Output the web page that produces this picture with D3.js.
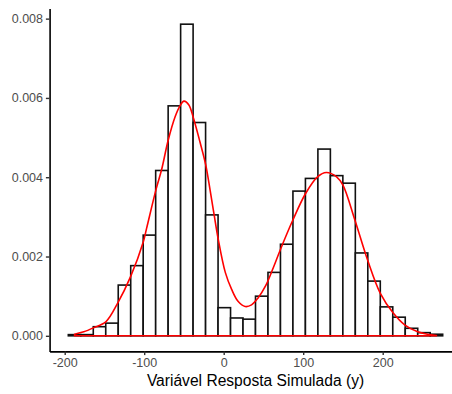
<!DOCTYPE html>
<html>
<head>
<meta charset="utf-8">
<script src="https://cdn.jsdelivr.net/npm/d3@7"></script>
<style>
  html, body { margin: 0; padding: 0; background: #fff; }
  svg { display: block; font-family: "Liberation Sans", Arial, Helvetica, sans-serif; }
</style>
</head>
<body>
<svg id="chart" width="452" height="394"></svg>
<script>
// Simulated response: histogram (density scale, 30 bins) with a kernel density curve on top.
const dataMin = -187.6;
const dataMax = 267.6;
const binCount = 30;

// Histogram bar heights (density), left to right
const binDensity = [
  0.00003, 0.00003, 0.00023, 0.00032, 0.00128, 0.00177, 0.00254, 0.00417, 0.00580, 0.00786,
  0.00538, 0.00305, 0.00071, 0.00045, 0.00042, 0.00100, 0.00160, 0.00231, 0.00365, 0.00397,
  0.00471, 0.00404, 0.00385, 0.00209, 0.00138, 0.00073, 0.00047, 0.00019, 0.00008, 0.00004
];

// Kernel density estimate, sampled along x
const kdeX = [
  -187.6, -176, -164, -148, -134, -117, -101, -97, -85, -78, -70, -61, -55, -50, -44, -38, -30,
  -22.6, -17, -12, -7, 2, 10, 18, 27, 35, 43, 53, 63, 71, 87, 103, 118, 129, 142, 150, 165,
  181, 197, 213, 228, 244, 256, 267.6
];
const kdeY = [
  0.00004, 0.00010, 0.00020, 0.00036, 0.00080, 0.00150, 0.00238, 0.00271, 0.00370, 0.00420,
  0.00492, 0.00553, 0.00580, 0.00592, 0.00583, 0.00549, 0.00490,
  0.00431, 0.00366, 0.00305, 0.00245, 0.00160, 0.00117, 0.00087, 0.00074, 0.00078, 0.00095,
  0.00127, 0.00175, 0.00216, 0.00292, 0.00359, 0.00401, 0.00412, 0.00401, 0.00380, 0.00292,
  0.00191, 0.00107, 0.00058, 0.00027, 0.00010, 0.00004, 0.00001
];

const xTicks = [-200, -100, 0, 100, 200];
const yTicks = [0, 0.002, 0.004, 0.006, 0.008];
const xTitle = "Variável Resposta Simulada (y)";

// Bin geometry: bins centred on the data extremes
const binWidth = (dataMax - dataMin) / (binCount - 1);
const bins = binDensity.map((d, i) => ({
  x0: dataMin - binWidth / 2 + i * binWidth,
  x1: dataMin + binWidth / 2 + i * binWidth,
  density: d
}));

// Scales with 5% padding around the plotted extent
const xLo = bins[0].x0, xHi = bins[bins.length - 1].x1;
const xPad = (xHi - xLo) * 0.05;
const yMax = d3.max(binDensity);
const yPad = yMax * 0.05;

const x = d3.scaleLinear().domain([xLo - xPad, xHi + xPad]).range([49.6, 461.4]);
const y = d3.scaleLinear().domain([-yPad, yMax + yPad]).range([351.4, 8.6]);

const svg = d3.select("#chart");

// Histogram bars
svg.append("g")
  .selectAll("rect")
  .data(bins)
  .join("rect")
  .attr("x", d => x(d.x0))
  .attr("width", d => x(d.x1) - x(d.x0))
  .attr("y", d => y(d.density))
  .attr("height", d => y(0) - y(d.density))
  .attr("fill", "#ffffff")
  .attr("stroke", "#111111")
  .attr("stroke-width", 1.6);

// Density outline: the curve, closed back along the baseline
const kde = kdeX.map((v, i) => [v, kdeY[i]]);
const curvePath = d3.line()
  .x(d => x(d[0]))
  .y(d => y(d[1]))
  .curve(d3.curveCatmullRom.alpha(0.5))(kde);
svg.append("path")
  .attr("d", curvePath
        + "L" + x(kdeX[kdeX.length - 1]) + "," + y(0)
        + "L" + x(kdeX[0]) + "," + y(0) + "Z")
  .attr("fill", "none")
  .attr("stroke", "#ff0000")
  .attr("stroke-width", 1.6)
  .attr("stroke-linejoin", "round");

// Axes
const xAxis = d3.axisBottom(x).tickValues(xTicks).tickSize(3.7).tickSizeOuter(0).tickPadding(2.9)
  .tickFormat(d3.format("d"));
const yAxis = d3.axisLeft(y).tickValues(yTicks).tickSize(3.7).tickSizeOuter(0).tickPadding(2.9)
  .tickFormat(d3.format(".3f"));

const gx = svg.append("g").attr("transform", `translate(0,${y.range()[0]})`).call(xAxis);
const gy = svg.append("g").attr("transform", `translate(${x.range()[0]},0)`).call(yAxis);

[gx, gy].forEach(g => {
  g.select(".domain").attr("stroke", "#000").attr("stroke-width", 1.6);
  g.selectAll(".tick line").attr("stroke", "#333333").attr("stroke-width", 1.4);
  g.selectAll(".tick text")
    .attr("fill", "#4d4d4d")
    .attr("font-size", "12.5px")
    .attr("font-family", "Liberation Sans, Arial, sans-serif");
});
gx.selectAll(".tick text").text(d => d < 0 ? "-" + Math.abs(d) : String(d));

// Axis title
svg.append("text")
  .attr("x", (x.range()[0] + x.range()[1]) / 2)
  .attr("y", 386)
  .attr("text-anchor", "middle")
  .attr("font-size", "15.6px")
  .attr("fill", "#000")
  .text(xTitle);
</script>
</body>
</html>
